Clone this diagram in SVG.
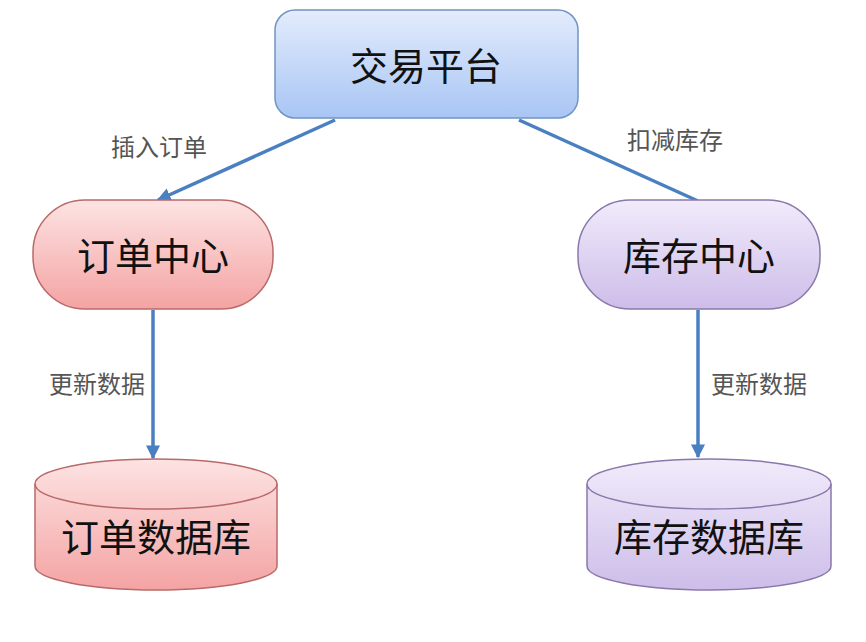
<svg xmlns="http://www.w3.org/2000/svg" width="866" height="642" viewBox="0 0 866 642">
<style>
.node{font-family:"Noto Sans CJK SC","Liberation Sans",sans-serif;font-size:38px;fill:#111;text-anchor:middle;dominant-baseline:central}
.lbl{font-family:"Noto Sans CJK SC","Liberation Sans",sans-serif;font-size:24px;fill:#555;text-anchor:middle;dominant-baseline:central}
.edge{stroke:#4a7fc1;stroke-width:3.5;fill:none}
</style>
<defs>
<linearGradient id="gBlue" x1="0" y1="0" x2="0" y2="1"><stop offset="0" stop-color="#e3ecfc"/><stop offset="1" stop-color="#a8c5f4"/></linearGradient>
<linearGradient id="gPink" x1="0" y1="0" x2="0" y2="1"><stop offset="0" stop-color="#fde3e3"/><stop offset="1" stop-color="#f4a3a3"/></linearGradient>
<linearGradient id="gPurple" x1="0" y1="0" x2="0" y2="1"><stop offset="0" stop-color="#f1ebfb"/><stop offset="1" stop-color="#cdbde9"/></linearGradient>
<marker id="arr" viewBox="0 0 10 10" refX="9" refY="5" markerWidth="4" markerHeight="4" orient="auto" markerUnits="strokeWidth"><path d="M0,0 L10,5 L0,10 z" fill="#4a7fc1"/></marker>
</defs>
<rect width="866" height="642" fill="#fff"/>
<g id="connectors">
<line class="edge" x1="335" y1="120" x2="158" y2="200" marker-end="url(#arr)"/>
<line class="edge" x1="519" y1="120" x2="698" y2="201"/>
<line class="edge" x1="153" y1="310" x2="153" y2="458" marker-end="url(#arr)"/>
<line class="edge" x1="698" y1="310" x2="698" y2="457" marker-end="url(#arr)"/>
<text class="lbl" x="159" y="145">插入订单</text>
<text class="lbl" x="675" y="138">扣减库存</text>
<text class="lbl" x="97" y="382">更新数据</text>
<text class="lbl" x="759" y="382">更新数据</text>
</g>
<g id="trade">
<rect x="275" y="10" width="303" height="108" rx="20" fill="url(#gBlue)" stroke="#7294c4" stroke-width="1.5"/>
<text class="node" x="426" y="63">交易平台</text>
</g>
<g id="order-center">
<rect x="33" y="200" width="240" height="109" rx="52" fill="url(#gPink)" stroke="#b86a6a" stroke-width="1.5"/>
<text class="node" x="153" y="253">订单中心</text>
</g>
<g id="stock-center">
<rect x="578" y="200" width="242" height="109" rx="52" fill="url(#gPurple)" stroke="#8a78aa" stroke-width="1.5"/>
<text class="node" x="699" y="253">库存中心</text>
</g>
<g id="order-db">
<path d="M35,484 L35,566 A121,24 0 0 0 277,566 L277,484 A121,25 0 0 0 35,484 Z" fill="url(#gPink)" stroke="#b86a6a" stroke-width="1.5"/>
<path d="M35,484 A121,25 0 0 0 277,484" fill="none" stroke="#b86a6a" stroke-width="1.5"/>
<text class="node" x="156" y="534">订单数据库</text>
</g>
<g id="stock-db">
<path d="M587,484 L587,566 A122,24 0 0 0 831,566 L831,484 A122,25 0 0 0 587,484 Z" fill="url(#gPurple)" stroke="#8a78aa" stroke-width="1.5"/>
<path d="M587,484 A122,25 0 0 0 831,484" fill="none" stroke="#8a78aa" stroke-width="1.5"/>
<text class="node" x="709" y="534">库存数据库</text>
</g>
</svg>
